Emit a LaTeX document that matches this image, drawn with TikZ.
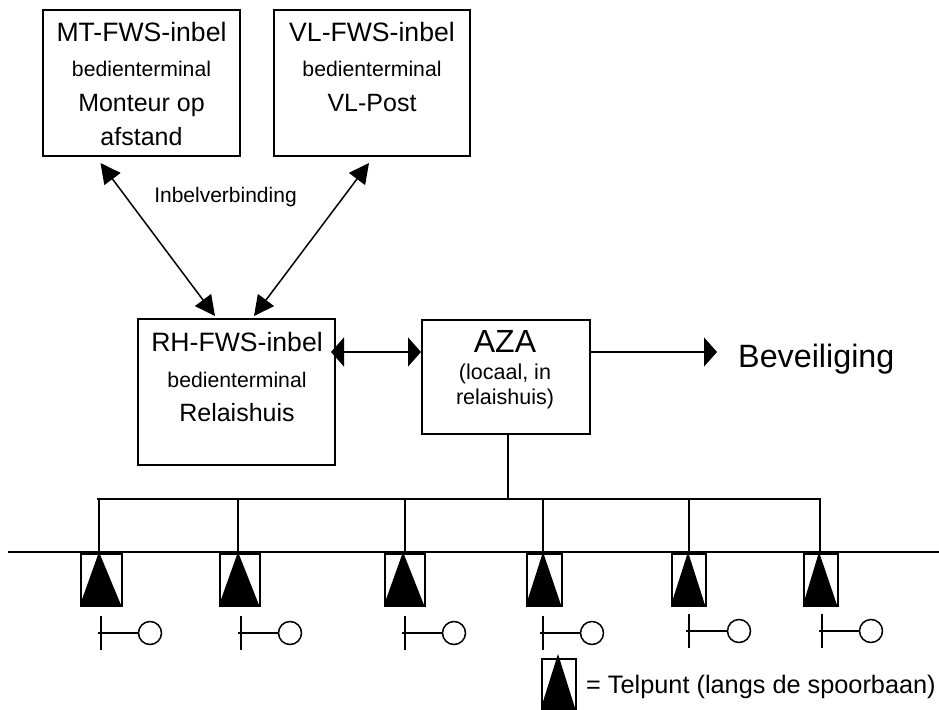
\documentclass[tikz,border=0pt]{standalone}
\usepackage{fontspec}
\setmainfont{Liberation Sans}
\usetikzlibrary{arrows.meta}
\newcommand{\fs}[1]{\fontsize{#1}{#1}\selectfont}
\tikzset{x=1pt,y=-1pt,
 box/.style={draw,line width=1.9pt,inner sep=0pt,anchor=north west},
 txt/.style={inner sep=0pt,text=black,anchor=base},
 conn/.style={line width=1.6pt},
 thin conn/.style={line width=1.2pt},
 diagarrow/.style={{Triangle[length=20pt,width=20pt]}-{Triangle[length=20pt,width=20pt]},line width=1.5pt},
 bothtip/.style={{Triangle[length=13pt,width=29pt]}-{Triangle[length=13pt,width=29pt]},line width=1.8pt},
 endtip/.style={-{Triangle[length=13pt,width=29pt]},line width=1.1pt},
 telbox/.style={draw,line width=1.5pt,inner sep=0pt,anchor=north west},
 circ/.style={draw,circle,line width=1.5pt,minimum size=23pt,inner sep=0pt}}
% name, left x, right x, apex x, top y, bottom y, apex y
\newcommand{\telpunt}[7]{%
 \node[telbox,minimum width=#3pt-#2pt,minimum height=#6pt-#5pt] (#1) at (#2,#5) {};
 \coordinate (#1top) at (#4,#7);
 \fill (#1top) -- (#3,#6) -- (#2,#6) -- cycle;
 \draw[line width=2pt] (#2,#6) -- (#3,#6);
}
% name, pole x, y, circle x
\newcommand{\seinpaal}[4]{%
 \node[circ] (#1) at (#4,#3) {};
 \coordinate (#1a) at (#2-3,#3);
 \coordinate (#1u) at (#2,#3-17);
 \coordinate (#1d) at (#2,#3+17);
 \draw[line width=1.5pt] (#1u) -- (#1d);
 \draw[line width=1.5pt] (#1a) -- (#1);
}
\begin{document}
\begin{tikzpicture}
\useasboundingbox (0,0) rectangle (939,709);
% boxes
\node[box,minimum width=197pt,minimum height=146pt] (mt) at (42,9) {};
\node[box,minimum width=196pt,minimum height=146pt] (vl) at (273,9) {};
\node[box,minimum width=197pt,minimum height=146pt] (rh) at (137,318) {};
\node[box,minimum width=168pt,minimum height=114pt] (aza) at (421,319) {};
% box texts
\node[txt,font=\fs{26.6}] (t1) at (141.5,41.5) {MT-FWS-inbel};
\node[txt,font=\fs{21.2}] (t2) at (141.5,77) {bedienterminal};
\node[txt,font=\fs{25}] (t3) at (141.5,111) {Monteur op};
\node[txt,font=\fs{25}] (t4) at (141.5,145) {afstand};
\node[txt,font=\fs{26.6}] (t5) at (372,41.5) {VL-FWS-inbel};
\node[txt,font=\fs{21.2}] (t6) at (372,77) {bedienterminal};
\node[txt,font=\fs{25}] (t7) at (372,111) {VL-Post};
\node[txt,font=\fs{21}] (t8) at (225.5,202) {Inbelverbinding};
\node[txt,font=\fs{26.6}] (t9) at (237,351) {RH-FWS-inbel};
\node[txt,font=\fs{21.2}] (t10) at (237,387) {bedienterminal};
\node[txt,font=\fs{25}] (t11) at (237,421) {Relaishuis};
\node[txt,font=\fs{32}] (t12) at (505,352) {AZA};
\node[txt,font=\fs{21.5}] (t13) at (505,379) {(locaal, in};
\node[txt,font=\fs{21.5}] (t14) at (505,404) {relaishuis)};
\node[txt,font=\fs{32.3},anchor=base west] (bev) at (738,367) {Beveiliging};
% arrows
\coordinate (mta) at (100.5,163);
\coordinate (vla) at (369,163);
\coordinate (rha) at (215,316);
\coordinate (rhb) at (254,316);
\draw[diagarrow] (mta) -- (rha);
\draw[diagarrow] (vla) -- (rhb);
\coordinate (rhe) at (331,352);
\coordinate (azaw) at (421,352);
\coordinate (azae) at (589,352);
\coordinate (bevt) at (717,352);
\draw[bothtip] (rhe) -- (azaw);
\draw[endtip] (azae) -- (bevt);
% bus and track
\coordinate (busl) at (97,499);
\coordinate (busr) at (820.7,499);
\coordinate (azastem) at (508,499);
\coordinate (trl) at (8,552);
\coordinate (trr) at (939,552);
\draw[thin conn] (aza.south -| azastem) -- (azastem);
\draw[conn] (busl) -- (busr);
% telpunten
\telpunt{a}{80}{121}{99}{553}{605}{552}
\telpunt{b}{219}{259}{238}{553}{605}{552}
\telpunt{c}{384}{424}{403}{553}{605}{552}
\telpunt{d}{526}{561}{543}{553}{605}{552}
\telpunt{e}{671}{705}{688}{553}{605}{552}
\telpunt{f}{803}{837}{819}{553}{605}{552}
\draw[conn] (trl) -- (trr);
\foreach \n/\x in {a/99,b/238,c/405,d/543,e/689,f/820}{
 \draw[conn] (\x,499) -- (\n top -| \x,552);
}
% signals
\seinpaal{s1}{101}{633}{150}
\seinpaal{s2}{241}{633}{290}
\seinpaal{s3}{405}{633}{454}
\seinpaal{s4}{543}{633}{592}
\seinpaal{s5}{689}{631}{739}
\seinpaal{s6}{822}{631}{871}
% legend
\telpunt{lg}{541}{575}{558}{658}{708}{654}
\node[txt,font=\fs{25.3},anchor=base west] (lgt) at (586,693) {= Telpunt (langs de spoorbaan)};
\end{tikzpicture}
\end{document}
